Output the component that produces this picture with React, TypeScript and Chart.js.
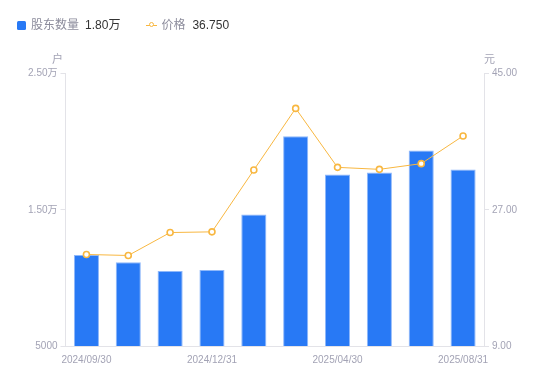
import React, { useEffect, useRef } from "react";
import { Chart, registerables } from "chart.js";

Chart.register(...registerables);

const categories = [
  "2024/09/30", "2024/10/31", "2024/11/30", "2024/12/31", "2025/02/28",
  "2025/03/31", "2025/04/30", "2025/06/30", "2025/07/31", "2025/08/31",
];
const shareholders = [11670, 11150, 10500, 10570, 14650, 20390, 17580, 17730, 19340, 17960];
const prices = [21.09, 20.96, 23.99, 24.08, 32.25, 40.39, 32.6, 32.34, 33.09, 36.75];
const shownLabelIdx = [0, 3, 6, 9];
const leftTicks = [5000, 15000, 25000];
const rightTicks = [9, 27, 45];

const FONT = "'Liberation Sans', 'Noto Sans CJK SC', sans-serif";
const TICK_COLOR = "#a3a3b5";
const AXIS_COLOR = "#e3e3e8";
const BAR_COLOR = "#2879f5";
const LINE_COLOR = "#f8b740";

function fmtLeft(v: number) {
  if (v < 10000) return String(v);
  return (v / 10000).toFixed(2) + "万";
}

export default function App() {
  const ref = useRef<HTMLCanvasElement>(null);
  useEffect(() => {
    document.body.style.margin = "0";
    const ctx = ref.current!;
    const chart = new Chart(ctx, {
      data: {
        labels: categories,
        datasets: [
          {
            type: "line",
            label: "价格",
            data: prices,
            yAxisID: "y1",
            borderColor: LINE_COLOR,
            borderWidth: 1,
            pointRadius: 3,
            pointBorderWidth: 1.6,
            pointBackgroundColor: "#ffffff",
            pointBorderColor: LINE_COLOR,
            tension: 0,
            order: 0,
          },
          {
            type: "bar",
            label: "股东数量",
            data: shareholders,
            yAxisID: "y",
            backgroundColor: BAR_COLOR,
            borderColor: "#8fb8fa",
            borderWidth: { left: 1, right: 1, top: 1, bottom: 0 },
            barPercentage: 0.6,
            categoryPercentage: 1,
            order: 1,
          },
        ],
      },
      options: {
        animation: false,
        responsive: false,
        maintainAspectRatio: false,
        layout: { padding: { top: 73.5, left: 0, right: 0, bottom: 0 } },
        plugins: { legend: { display: false }, tooltip: { enabled: false } },
        scales: {
          x: {
            grid: { display: false },
            border: { display: true, color: AXIS_COLOR },
            ticks: {
              autoSkip: false,
              maxRotation: 0,
              color: TICK_COLOR,
              font: { size: 10, family: FONT },
              padding: 0,
              callback: (_v: any, i: number) => (shownLabelIdx.includes(i) ? categories[i] : ""),
            },
            afterFit: (s: any) => { s.height = 35; },
          },
          y: {
            position: "left",
            min: 5000,
            max: 25000,
            afterBuildTicks: (s: any) => { s.ticks = leftTicks.map((v) => ({ value: v })); },
            grid: { drawOnChartArea: false, tickLength: 5, color: AXIS_COLOR },
            border: { display: true, color: AXIS_COLOR },
            ticks: {
              color: TICK_COLOR,
              font: { size: 10, family: FONT },
              padding: 3,
              callback: (v: any) => fmtLeft(Number(v)),
            },
            afterFit: (s: any) => { s.width = 65.5; },
          },
          y1: {
            position: "right",
            min: 9,
            max: 45,
            afterBuildTicks: (s: any) => { s.ticks = rightTicks.map((v) => ({ value: v })); },
            grid: { drawOnChartArea: false, tickLength: 5, color: AXIS_COLOR },
            border: { display: true, color: AXIS_COLOR },
            ticks: {
              color: TICK_COLOR,
              font: { size: 10, family: FONT },
              padding: 3,
              callback: (v: any) => Number(v).toFixed(2),
            },
            afterFit: (s: any) => { s.width = 66; },
          },
        },
      },
    } as any);
    return () => chart.destroy();
  }, []);

  const lastBar = shareholders[shareholders.length - 1];
  const lastPrice = prices[prices.length - 1];

  return (
    <div style={{ position: "relative", width: 550, height: 381, fontFamily: FONT }}>
      <canvas ref={ref} width={550} height={381} style={{ position: "absolute", left: 0, top: 0 }} />
      <div style={{ position: "absolute", left: 17, top: 16, display: "flex", alignItems: "center", fontSize: 12, lineHeight: "18px" }}>
        <span style={{ width: 9, height: 9, background: BAR_COLOR, borderRadius: 1.5, display: "inline-block", marginRight: 5 }} />
        <span style={{ color: "#8c8c9c" }}>股东数量</span>
        <span style={{ color: "#333", marginLeft: 6 }}>{(lastBar / 10000).toFixed(2)}万</span>
        <span style={{ position: "relative", width: 11, height: 9, display: "inline-block", marginLeft: 26, marginRight: 4 }}>
          <span style={{ position: "absolute", left: 0, top: 4, width: 11, height: 1, background: LINE_COLOR }} />
          <span style={{ position: "absolute", left: 2.5, top: 1.5, width: 3, height: 3, border: `1.5px solid ${LINE_COLOR}`, borderRadius: "50%", background: "#fff" }} />
        </span>
        <span style={{ color: "#8c8c9c" }}>价格</span>
        <span style={{ color: "#333", marginLeft: 7 }}>{lastPrice.toFixed(3)}</span>
      </div>
      <div style={{ position: "absolute", left: 52, top: 50, fontSize: 11, color: TICK_COLOR }}>户</div>
      <div style={{ position: "absolute", left: 484, top: 50, fontSize: 11, color: TICK_COLOR }}>元</div>
    </div>
  );
}
